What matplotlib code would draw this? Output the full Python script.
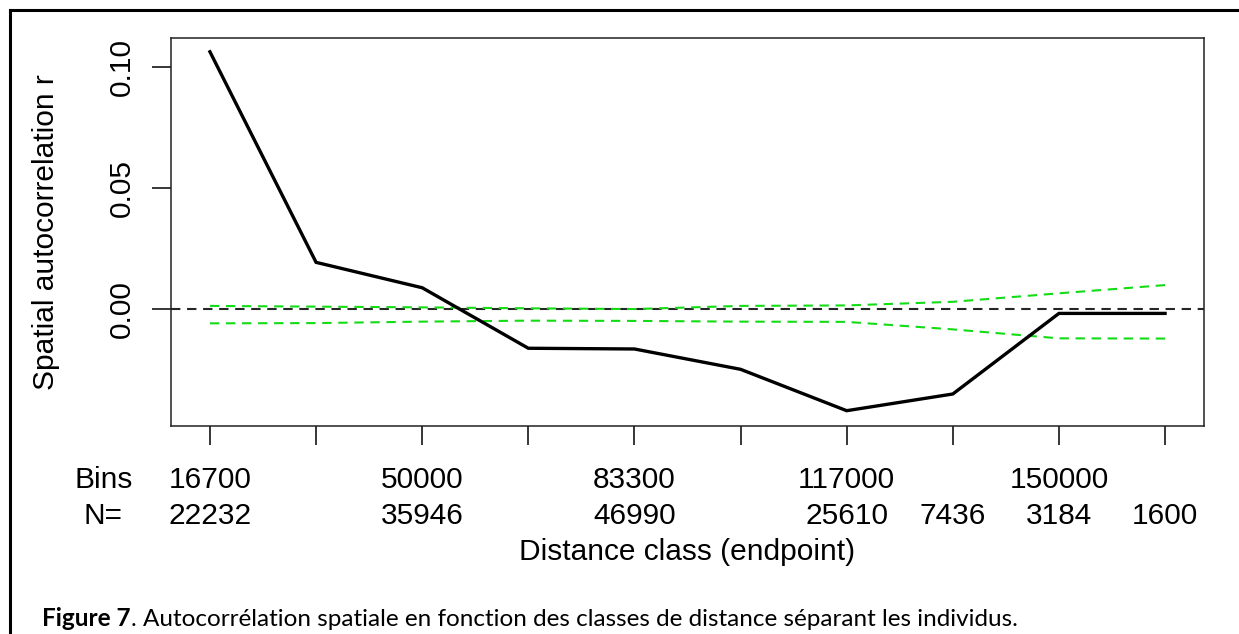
import numpy as np
import matplotlib
matplotlib.use("Agg")
import matplotlib.pyplot as plt
import matplotlib.transforms as mtransforms
from matplotlib.lines import Line2D

# valeurs
classes = list(range(10))
autocorr_r = [0.1064, 0.0194, 0.0089, -0.0161, -0.0164, -0.0248, -0.0419, -0.0350, -0.0017, -0.0017]
ic_haut = [0.0014, 0.0011, 0.0008, 0.0004, 0.0001, 0.0014, 0.0016, 0.0031, 0.0066, 0.0100]
ic_bas = [-0.0058, -0.0057, -0.0051, -0.0047, -0.0048, -0.0051, -0.0052, -0.0083, -0.0120, -0.0121]

bins_idx = [0, 2, 4, 6, 8]
bins_labels = ["16700", "50000", "83300", "117000", "150000"]
n_idx = [0, 2, 4, 6, 7, 8, 9]
n_labels = ["22232", "35946", "46990", "25610", "7436", "3184", "1600"]

W, H = 1239, 634
fig = plt.figure(figsize=(W / 100, H / 100), dpi=100)
ax = fig.add_axes([171 / W, 1 - 425.7 / H, (1204 - 171) / W, (425.7 - 38) / H])

police = "Liberation Sans"
taille = 21.5

# lignes
ax.axhline(0, color="#262626", lw=1.5, ls=(0, (4.5, 3.2)), zorder=1)
ax.plot(classes, ic_haut, color="#14dc14", lw=1.5, ls=(0, (4.5, 3.2)), zorder=2)
ax.plot(classes, ic_bas, color="#14dc14", lw=1.5, ls=(0, (4.5, 3.2)), zorder=2)
ax.plot(classes, autocorr_r, color="black", lw=2.4, zorder=3, solid_joinstyle="miter")

ax.set_xlim(-0.367, 9.367)
ax.set_ylim(-0.0481, 0.1121)

ax.set_yticks([0.0, 0.05, 0.10])
ax.set_yticklabels(["0.00", "0.05", "0.10"], rotation=90, va="center",
                   fontsize=taille, family=police)
ax.set_xticks(classes)
ax.set_xticklabels([])
ax.tick_params(axis="both", direction="out", length=13.5, width=1.1, color="black")
ax.tick_params(axis="y", pad=12)
for s in ax.spines.values():
    s.set_linewidth(1.1)
    s.set_color("#222222")

# lignes de texte sous l'axe (style R)
trans = mtransforms.blended_transform_factory(ax.transData, fig.transFigure)
for i, lab in zip(bins_idx, bins_labels):
    ax.text(i, 1 - 480 / H, lab, transform=trans, ha="center", va="center",
            fontsize=taille, family=police, clip_on=False)
for i, lab in zip(n_idx, n_labels):
    ax.text(i, 1 - 516 / H, lab, transform=trans, ha="center", va="center",
            fontsize=taille, family=police, clip_on=False)
fig.text(103.5 / W, 1 - 480 / H, "Bins", ha="center", va="center", fontsize=taille, family=police)
fig.text(103.5 / W, 1 - 516 / H, "N=", ha="center", va="center", fontsize=taille, family=police)
fig.text(687.5 / W, 1 - 552 / H, "Distance class (endpoint)", ha="center", va="center",
         fontsize=taille, family=police)
fig.text(46 / W, 1 - 232 / H, "Spatial autocorrelation r", rotation=90, ha="center",
         va="center", fontsize=taille, family=police)

# légende de la figure
t1 = fig.text(42 / W, 1 - 626 / H, "Figure 7", fontsize=17.5, family="Lato",
              weight="bold", ha="left", va="baseline")
ax.annotate(". Autocorrélation spatiale en fonction des classes de distance séparant les individus.",
            xy=(1, 0), xycoords=t1, fontsize=17.5, family="Lato",
            ha="left", va="bottom", annotation_clip=False)

# cadre autour de la figure
fig.add_artist(Line2D([10 / W, 1], [1 - 10 / H, 1 - 10 / H], color="black", lw=2.2,
                      transform=fig.transFigure))
fig.add_artist(Line2D([10 / W, 10 / W], [0, 1 - 10 / H], color="black", lw=2.2,
                      transform=fig.transFigure))

fig.savefig("out.png", dpi=100)
